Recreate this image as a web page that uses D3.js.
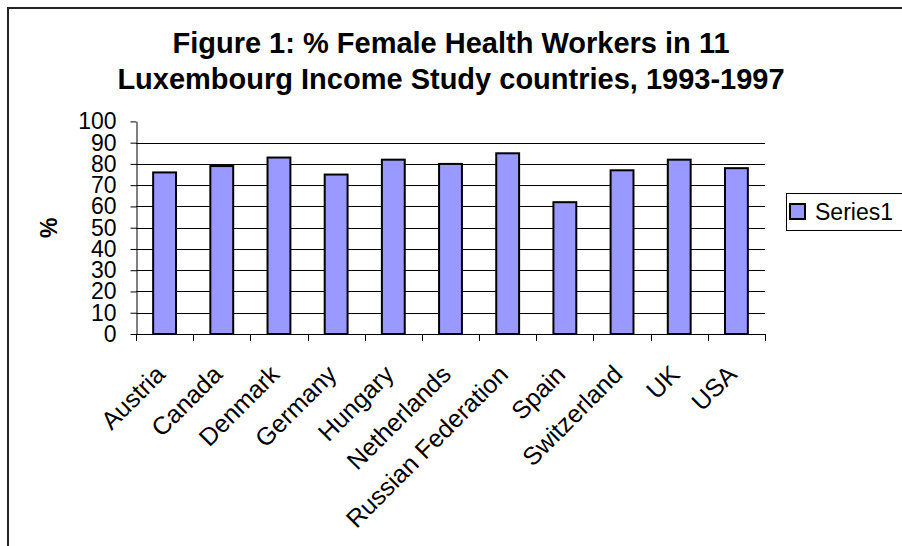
<!DOCTYPE html>
<html>
<head>
<meta charset="utf-8">
<script src="https://cdn.jsdelivr.net/npm/d3@7"></script>
<style>
  body { margin: 0; background: #fff; }
  text { font-family: "Liberation Sans", Arial, sans-serif; fill: #000; }
</style>
</head>
<body>
<div id="chart"></div>
<script>
// data
const countries = ["Austria", "Canada", "Denmark", "Germany", "Hungary", "Netherlands",
                   "Russian Federation", "Spain", "Switzerland", "UK", "USA"];
const series1 = [76, 79, 83, 75, 82, 80, 85, 62, 77, 82, 78];
const yTicks = [0, 10, 20, 30, 40, 50, 60, 70, 80, 90, 100];
const titleLines = ["Figure 1: % Female Health Workers in 11",
                    "Luxembourg Income Study countries, 1993-1997"];
const seriesName = "Series1";

const W = 902, H = 546;
const plot = {left: 136, right: 765, top: 121.4, bottom: 334};

const svg = d3.select("#chart")
    .append("svg")
    .attr("width", W)
    .attr("height", H);

svg.append("rect")
    .attr("width", W).attr("height", H)
    .attr("fill", "#fff");

// chart area border (only top and left edges are in frame)
svg.append("rect")
    .attr("x", 8).attr("y", 8)
    .attr("width", W + 20).attr("height", H + 20)
    .attr("fill", "none")
    .attr("stroke", "#222")
    .attr("stroke-width", 2);

// title
svg.append("text")
    .attr("text-anchor", "middle")
    .attr("font-size", 29)
    .attr("font-weight", "bold")
    .selectAll("tspan")
    .data(titleLines)
    .join("tspan")
      .attr("x", 451)
      .attr("y", (d, i) => 53 + i * 36)
      .text(d => d);

// scales
const x = d3.scaleBand()
    .domain(countries)
    .range([plot.left, plot.right])
    .paddingInner(0.6)
    .paddingOuter(0.3);

const y = d3.scaleLinear()
    .domain([0, 100])
    .range([plot.bottom, plot.top]);

// gridlines
svg.append("g")
    .selectAll("line")
    .data(yTicks.filter(d => d > 0 && d < 100))
    .join("line")
      .attr("x1", plot.left)
      .attr("x2", plot.right)
      .attr("y1", d => Math.round(y(d)) + 0.5)
      .attr("y2", d => Math.round(y(d)) + 0.5)
      .attr("stroke", "#000")
      .attr("stroke-width", 1);

// bars
svg.append("g")
    .selectAll("rect")
    .data(series1)
    .join("rect")
      .attr("x", (d, i) => x(countries[i]))
      .attr("y", d => y(d))
      .attr("width", x.bandwidth())
      .attr("height", d => y(0) - y(d))
      .attr("fill", "#9999ff")
      .attr("stroke", "#000")
      .attr("stroke-width", 2);

// Y axis
const yAxis = svg.append("g")
    .attr("transform", `translate(${plot.left + 0.5}, 0)`)
    .call(d3.axisLeft(y).tickValues(yTicks).tickSize(6).tickPadding(14).tickSizeOuter(0));
yAxis.select(".domain").attr("stroke", "#000");
yAxis.selectAll(".tick line").attr("stroke", "#000");
yAxis.selectAll(".tick text")
    .attr("font-size", 23)
    .attr("font-family", "Liberation Sans, Arial, sans-serif")
    .attr("fill", "#000");

// X axis: line, ticks at category boundaries, rotated labels
const step = x.step();
const xAxis = svg.append("g");
xAxis.append("line")
    .attr("x1", plot.left).attr("x2", plot.right)
    .attr("y1", plot.bottom + 0.5).attr("y2", plot.bottom + 0.5)
    .attr("stroke", "#000");
xAxis.selectAll(".xtick")
    .data(d3.range(countries.length + 1))
    .join("line")
      .attr("class", "xtick")
      .attr("x1", i => Math.round(plot.left + i * step) + 0.5)
      .attr("x2", i => Math.round(plot.left + i * step) + 0.5)
      .attr("y1", plot.bottom)
      .attr("y2", plot.bottom + 7)
      .attr("stroke", "#000");
xAxis.selectAll(".xlabel")
    .data(countries)
    .join("text")
      .attr("class", "xlabel")
      .attr("text-anchor", "end")
      .attr("font-size", 25)
      .attr("transform", d => `translate(${x(d) + x.bandwidth() / 2 + 2}, 376) rotate(-45)`)
      .text(d => d);

// y axis title
svg.append("text")
    .attr("text-anchor", "middle")
    .attr("font-size", 23)
    .attr("font-weight", "bold")
    .attr("transform", `translate(57, ${(plot.top + plot.bottom) / 2}) rotate(-90)`)
    .text("%");

// legend
const legend = svg.append("g");
legend.append("rect")
    .attr("x", 786.5).attr("y", 193.5)
    .attr("width", 140).attr("height", 37)
    .attr("fill", "#fff")
    .attr("stroke", "#000");
legend.append("rect")
    .attr("x", 790).attr("y", 204)
    .attr("width", 15).attr("height", 15)
    .attr("fill", "#9999ff")
    .attr("stroke", "#000")
    .attr("stroke-width", 2);
legend.append("text")
    .attr("x", 815).attr("y", 220)
    .attr("font-size", 23)
    .text(seriesName);
</script>
</body>
</html>
